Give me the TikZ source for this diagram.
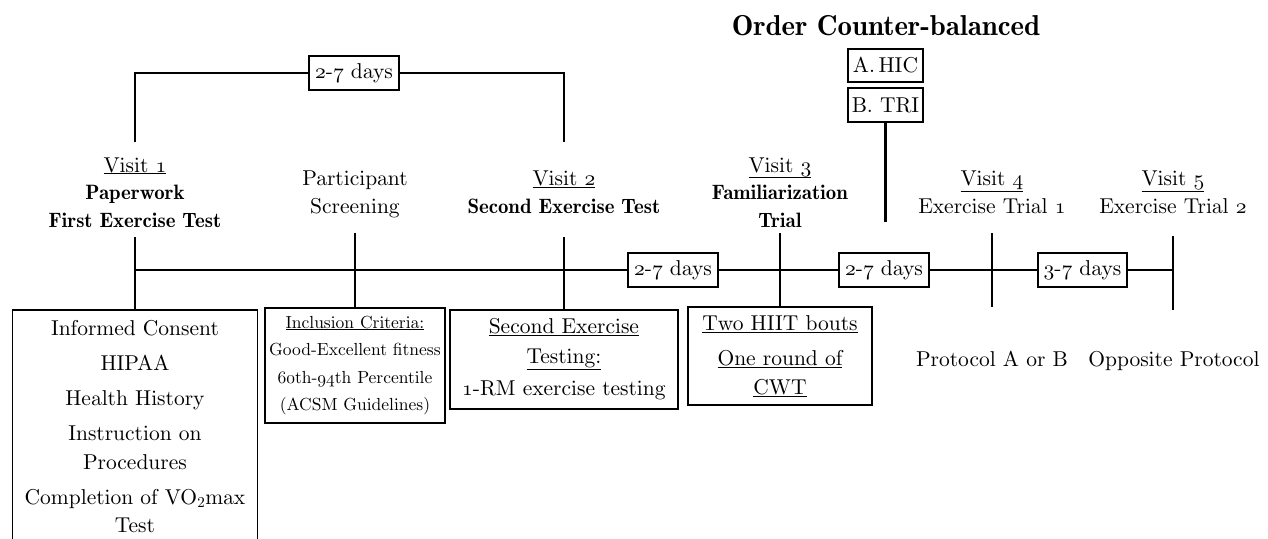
\documentclass[tikz,border=0pt]{standalone}
\usepackage[OT1]{fontenc}
\DeclareFontFamily{OT1}{cmr}{\hyphenchar\font45}
\DeclareFontShape{OT1}{cmr}{m}{n}{<->cmr10}{}
\DeclareFontShape{OT1}{cmr}{bx}{n}{<->cmbx10}{}
\DeclareFontShape{OT1}{cmr}{b}{n}{<->cmb10}{}
\DeclareFontFamily{OML}{cmm}{\skewchar\font127}
\DeclareFontShape{OML}{cmm}{m}{it}{<->cmmi10}{}
\renewcommand\rmdefault{cmr}
\renewcommand\bfdefault{b}
\newcommand{\osn}[1]{{\usefont{OML}{cmm}{m}{it}#1}}
\newcommand{\bt}[1]{{\fontsize{20.8}{27.5}\selectfont\bfseries #1}}
\begin{document}
\begin{tikzpicture}[x=1pt,y=-1pt,
  every node/.style={inner sep=0pt, font=\fontsize{21.5}{27.5}\selectfont},
  lbl/.style={align=center, anchor=base},
  box/.style={draw, line width=1.4pt, align=center},
  daybox/.style={box, minimum width=90pt, minimum height=34pt},
  ln/.style={line width=2.7pt},
]
\useasboundingbox (0,0) rectangle (1268,538);

% title and protocol order
\node[font=\fontsize{28.8}{32}\selectfont\bfseries, anchor=base] (title) at (886,35) {Order Counter-balanced};
\node[box, minimum width=75pt, minimum height=33pt] (hic) at (885.5,65.5) {A.\,HIC};
\node[box, minimum width=75pt, minimum height=34pt] (tri) at (885.5,105) {B. TRI};

% visit labels (anchor base = baseline of last line)
\node[lbl] (L1) at (135,227) {\underline{Visit \osn{1}}\\\bt{Paperwork}\\\bt{First Exercise Test}};
\node[lbl] (LP) at (355,213) {Participant\\Screening};
\node[lbl] (L2) at (564,213) {\underline{Visit \osn{2}}\\\bt{Second Exercise Test}};
\node[lbl] (L3) at (780,227) {\underline{Visit \osn{3}}\\\bt{Familiarization}\\\bt{Trial}};
\node[lbl] (L4) at (992,213) {\underline{Visit \osn{4}}\\Exercise Trial \osn{1}};
\node[lbl] (L5) at (1173,213) {\underline{Visit \osn{5}}\\Exercise Trial \osn{2}};

% day boxes
\node[daybox] (dtop) at (354,73) {\osn{2}-\osn{7} days};
\node[daybox] (d1) at (673,270) {\osn{2}-\osn{7} days};
\node[daybox] (d2) at (884,270) {\osn{2}-\osn{7} days};
\node[daybox, minimum width=89pt] (d3) at (1082.5,270) {\osn{3}-\osn{7} days};

% boxes below the timeline
\node[box, minimum width=245pt, minimum height=234pt, font=\fontsize{21.5}{28.5}\selectfont] (b1) at (135,427)
  {Informed Consent\\[6.5pt]HIPAA\\[6.5pt]Health History\\[6.5pt]Instruction on\\Procedures\\[6.5pt]Completion of VO\textsubscript{2}max\\Test};
\node[box, minimum width=180pt, minimum height=115pt, font=\fontsize{17.5}{27.5}\selectfont] (b2) at (355,365.5)
  {\underline{Inclusion Criteria:}\\Good-Excellent fitness\\\osn{60}th-\osn{94}th Percentile\\(ACSM Guidelines)};
\node[box, minimum width=228pt, minimum height=99pt, font=\fontsize{21.5}{29.5}\selectfont] (b3) at (564,359.5)
  {\underline{Second Exercise}\\\underline{Testing:}\\[3pt]\osn{1}-RM exercise testing};
\node[box, minimum width=184pt, minimum height=98pt, font=\fontsize{21.5}{28.5}\selectfont] (b4) at (780,356)
  {\underline{Two HIIT bouts}\\[7pt]\underline{One round of}\\\underline{CWT}};
\node[lbl] (p4) at (992,366) {Protocol A or B};
\node[lbl] (p5) at (1174,366) {Opposite Protocol};

% coordinates for free ends
\coordinate (m1) at (135,270);
\coordinate (m5) at (1173,270);
\coordinate (t1) at (135,237);
\coordinate (tp) at (355,233);
\coordinate (t2) at (564,237);
\coordinate (t3) at (780,233);
\coordinate (t4a) at (992,233);
\coordinate (t4b) at (992,307);
\coordinate (t5a) at (1173,236);
\coordinate (t5b) at (1173,310);
\coordinate (trib) at (885.5,222);
\coordinate (u1) at (135,142);
\coordinate (u2) at (564,142);

% main timeline
\draw[ln] (m1) -- (d1.west);
\draw[ln] (d1.east) -- (d2.west);
\draw[ln] (d2.east) -- (d3.west);
\draw[ln] (d3.east) -- (m5);

% ticks
\draw[ln] (t1) -- (b1.north);
\draw[ln] (tp) -- (b2.north);
\draw[ln] (t2) -- (b3.north);
\draw[ln] (t3) -- (b4.north);
\draw[ln] (t4a) -- (t4b);
\draw[ln] (t5a) -- (t5b);
\draw[ln] (tri.south) -- (trib);

% top bracket
\draw[ln] (u1) |- (dtop.west);
\draw[ln] (dtop.east) -| (u2);
\end{tikzpicture}
\end{document}
